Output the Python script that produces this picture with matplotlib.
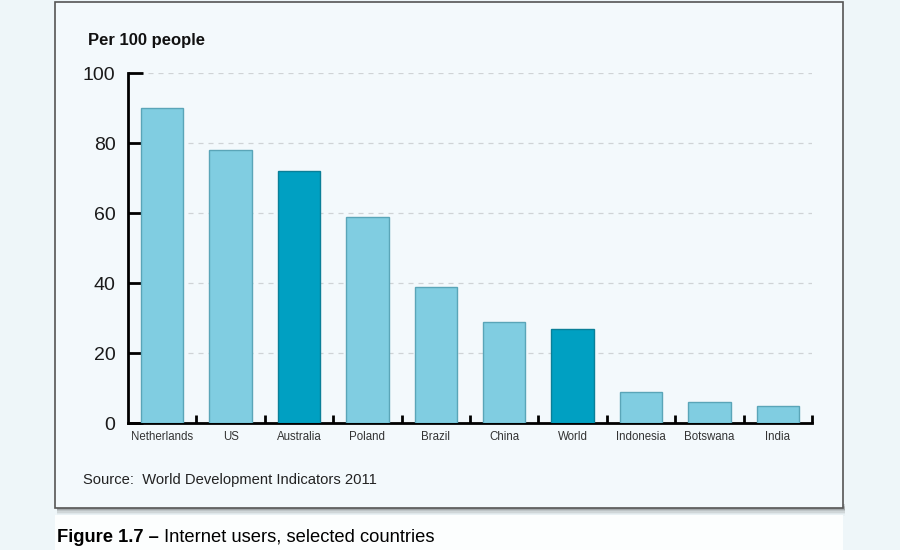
import matplotlib.pyplot as plt
from matplotlib.patches import Rectangle

countries = ["Netherlands", "US", "Australia", "Poland", "Brazil",
             "China", "World", "Indonesia", "Botswana", "India"]
users = [90, 78, 72, 59, 39, 29, 27, 9, 6, 5]
highlight = ["Australia", "World"]
yticks = [0, 20, 40, 60, 80, 100]

LIGHT = "#80cde1"
DARK = "#00a0c2"

plt.rcParams['font.family'] = ['Liberation Sans', 'DejaVu Sans']

fig = plt.figure(figsize=(9, 5.5), dpi=100)
fig.patch.set_facecolor("#eef6f9")

# panel with a soft shadow underneath
x0, x1 = 55 / 900, 843 / 900
y0, y1 = 1 - 508 / 550, 1 - 2 / 550
for i, a in enumerate([0.14, 0.10, 0.07, 0.04, 0.02]):
    fig.patches.append(Rectangle((x0 + 0.002, y0 - (i + 1) * 1.6 / 550), x1 - x0, 0.01,
                                 transform=fig.transFigure, facecolor="black",
                                 edgecolor="none", alpha=a, zorder=0))
fig.patches.append(Rectangle((x0, y0), x1 - x0, y1 - y0, transform=fig.transFigure,
                             facecolor="#f3f9fc", edgecolor="#555555", lw=1.2, zorder=1))
fig.patches.append(Rectangle((x0, 0), x1 - x0, 1 - 515 / 550, transform=fig.transFigure,
                             facecolor="#fcfefe", edgecolor="none", zorder=0.5))

ax = fig.add_axes([128 / 900, 1 - 423 / 550, 684 / 900, 350 / 550])
ax.set_facecolor("none")
ax.set_zorder(5)

colors = [DARK if c in highlight else LIGHT for c in countries]
edges = ["#0a7f98" if c in highlight else "#5aa5b8" for c in countries]
x = range(len(countries))
ax.bar(x, users, width=0.62, color=colors, edgecolor=edges, linewidth=1, zorder=3)

ax.set_xlim(-0.5, len(countries) - 0.5)
ax.set_ylim(0, 100)
ax.set_yticks(yticks)
for v in yticks[1:]:
    ax.axhline(v, color="#cfd3d6", lw=0.9, ls=(0, (4, 4)), zorder=1)

for s in ["top", "right"]:
    ax.spines[s].set_visible(False)
ax.spines["left"].set_linewidth(2)
ax.spines["bottom"].set_linewidth(2)

ax.tick_params(axis="y", direction="in", length=11, width=2, labelsize=14,
               labelcolor="#1a1a1a", pad=9)
ax.set_xticks(list(x))
ax.set_xticklabels(countries, fontsize=8.3, color="#333333")
ax.tick_params(axis="x", length=0, pad=6)
ax.set_xticks([i + 0.5 for i in x], minor=True)
ax.tick_params(axis="x", which="minor", direction="in", length=6, width=2)

fig.text(88 / 900, 1 - 40 / 550, "Per 100 people", fontsize=12, fontweight="bold",
         va="center", color="#111111")
fig.text(83 / 900, 1 - 480 / 550, "Source:  World Development Indicators 2011",
         fontsize=10.6, va="center", color="#222222")

t = fig.text(57 / 900, 1 - 537 / 550, "Figure 1.7 \u2013", fontsize=13.2, fontweight="bold",
             va="center")
fig.canvas.draw()
bb = t.get_window_extent()
fig.text(bb.x1 / 900 + 5 / 900, 1 - 537 / 550, "Internet users, selected countries",
         fontsize=13.2, va="center")

fig.savefig("out.png", dpi=100, facecolor=fig.get_facecolor())
